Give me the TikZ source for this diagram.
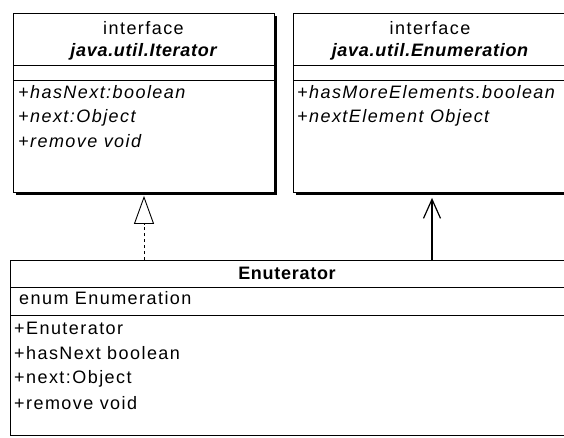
\documentclass[tikz,border=0pt]{standalone}
\usepackage{fontspec}
\setmainfont{Liberation Sans}[LetterSpace=8]
\usetikzlibrary{arrows.meta,shadows}

\tikzset{
  classbox/.style={draw, line width=0.9pt, fill=white, rectangle, inner sep=0pt, anchor=north west},
  shadowed/.style={drop shadow={shadow xshift=2.6pt, shadow yshift=-2.6pt, opacity=1, fill=black}},
  sepline/.style={line width=0.9pt},
  stereo/.style={inner sep=0pt, anchor=center},
  iname/.style={inner sep=0pt, anchor=center, font=\fontsize{18}{20}\selectfont\bfseries\itshape\addfontfeature{LetterSpace=4}},
  cname/.style={inner sep=0pt, anchor=center, font=\fontsize{18}{20}\selectfont\bfseries\addfontfeature{LetterSpace=4}},
  opitalic/.style={inner sep=0pt, anchor=mid west, font=\fontsize{18}{20}\selectfont\itshape},
  member/.style={inner sep=0pt, anchor=mid west},
  realize/.style={line width=0.9pt, dash pattern=on 3pt off 3pt,
    -{Triangle[open, length=28pt, width=20pt, line width=0.9pt]}},
  assoc/.style={line width=1.6pt, -{Straight Barb[length=19pt, width=17pt, line width=1.2pt]}},
}

\begin{document}
\begin{tikzpicture}[x=1pt, y=-1pt, font=\fontsize{18}{20}\selectfont]
\clip (0,0) rectangle (564,438);
\fill[white] (0,0) rectangle (564,438);

% interface java.util.Iterator
\node[classbox, shadowed, minimum width=261pt, minimum height=179pt] (iter) at (13,13) {};
\draw[sepline] (iter.west |- 0,65) -- (iter.east |- 0,65);
\draw[sepline] (iter.west |- 0,80) -- (iter.east |- 0,80);
\node[stereo] (iterst) at (143.5,28) {interface};
\node[iname] (itername) at (143.5,52) {java.util.Iterator};
\node[opitalic] (itm1) at (18,96) {+hasNext:boolean};
\node[opitalic] (itm2) at (18,120) {+next:Object};
\node[opitalic] (itm3) at (18,145) {+remove void};

% interface java.util.Enumeration
\node[classbox, shadowed, minimum width=274pt, minimum height=179pt] (enum) at (293,13) {};
\draw[sepline] (enum.west |- 0,65) -- (enum.east |- 0,65);
\draw[sepline] (enum.west |- 0,80) -- (enum.east |- 0,80);
\node[stereo] (enumst) at (430,28) {interface};
\node[iname] (enumname) at (430,52) {java.util.Enumeration};
\node[opitalic] (enm1) at (297,96) {+hasMoreElements.boolean};
\node[opitalic] (enm2) at (297,120) {+nextElement Object};

% class Enuterator
\node[classbox, minimum width=556pt, minimum height=175pt] (enut) at (10,260) {};
\draw[sepline] (enut.west |- 0,287) -- (enut.east |- 0,287);
\draw[sepline] (enut.west |- 0,315) -- (enut.east |- 0,315);
\node[cname] (enutname) at (287,273.5) {Enuterator};
\node[member] (enatt) at (19,302) {enum Enumeration};
\node[member] (enop1) at (14,332) {+Enuterator};
\node[member] (enop2) at (14,357) {+hasNext boolean};
\node[member] (enop3) at (14,381) {+next:Object};
\node[member] (enop4) at (14,407) {+remove void};

% connectors
\coordinate (rx) at (144,0);
\coordinate (ax) at (432,0);
\draw[realize] (enut.north -| rx) -- ([yshift=-3pt]iter.south -| rx);
\draw[assoc] (enut.north -| ax) -- ([yshift=-5pt]enum.south -| ax);
\end{tikzpicture}
\end{document}
